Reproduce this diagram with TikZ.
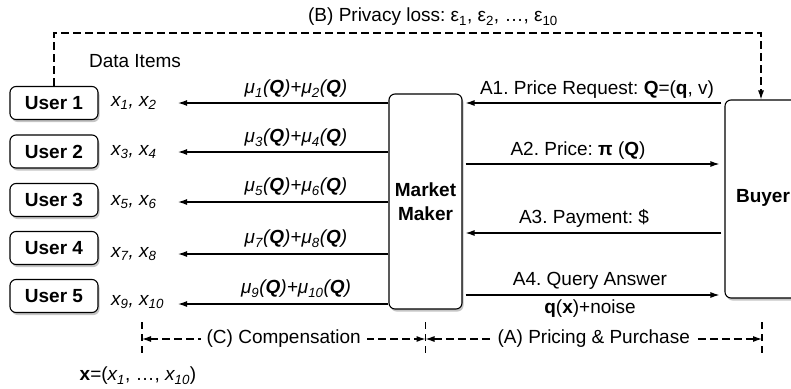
\documentclass[tikz,border=0pt]{standalone}
\usepackage{fontspec}
\setmainfont{Liberation Sans}
\usetikzlibrary{arrows.meta,shadows,calc}
\newcommand{\mysb}[1]{\textsubscript{#1}}
\frenchspacing
\begin{document}
\begin{tikzpicture}[x=1pt,y=-1pt,
  font=\fontsize{19}{22}\selectfont,
  box/.style={draw, line width=1.1pt, rounded corners=6pt, fill=white,
    drop shadow={shadow xshift=1.5pt,shadow yshift=-2.5pt,opacity=0.45}},
  userbox/.style={box, minimum width=88pt, minimum height=33pt, inner sep=0pt,
    font=\fontsize{19}{22}\selectfont\bfseries},
  tip/.tip={Latex[length=9pt,width=6pt]},
  arr/.style={line width=1.2pt, -tip},
  dsh/.style={line width=1.1pt, dash pattern=on 8pt off 4pt},
  lbl/.style={inner sep=1pt},
  xlbl/.style={anchor=west, inner sep=1pt, font=\fontsize{19}{22}\selectfont\itshape},
  mulbl/.style={inner sep=1pt, font=\fontsize{19}{22}\selectfont\itshape},
]
\clip (0,0) rectangle (791,388);
\fill[white] (0,0) rectangle (791,388);

% users
\node[userbox] (u1) at (54,103) {User 1};
\node[userbox] (u2) at (54,151.5) {User 2};
\node[userbox] (u3) at (54,200) {User 3};
\node[userbox] (u4) at (54,248) {User 4};
\node[userbox] (u5) at (54,296) {User 5};

% market maker and buyer
\node[box, minimum width=73pt, minimum height=215pt, inner sep=0pt] (mm) at (425.5,201.5) {};
\node[align=center, font=\fontsize{19}{24}\selectfont\bfseries] (mmt) at (mm.center) {Market\\Maker};
\node[box, minimum width=80pt, minimum height=198pt, inner sep=0pt] (buyer) at (765,199) {};
\node[font=\fontsize{19}{22}\selectfont\bfseries] (buyert) at (763,198) {Buyer};

% data items
\node[lbl] (di) at (135,61) {Data Items};
\node[xlbl] (x1) at (110,103) {x\mysb{1}, x\mysb{2}};
\node[xlbl] (x2) at (110,152) {x\mysb{3}, x\mysb{4}};
\node[xlbl] (x3) at (110,202) {x\mysb{5}, x\mysb{6}};
\node[xlbl] (x4) at (110,254) {x\mysb{7}, x\mysb{8}};
\node[xlbl] (x5) at (110,302) {x\mysb{9}, x\mysb{10}};

\coordinate (e1) at (178,103);
\coordinate (e2) at (178,152);
\coordinate (e3) at (178,202);
\coordinate (e4) at (178,254);
\coordinate (e5) at (178,304);
\foreach \i in {1,...,5}{\draw[arr] (mm.west |- e\i) -- (e\i);}

\node[mulbl] (m1) at (296,89) {μ\mysb{1}(\textbf{Q})+μ\mysb{2}(\textbf{Q})};
\node[mulbl] (m2) at (296,138) {μ\mysb{3}(\textbf{Q})+μ\mysb{4}(\textbf{Q})};
\node[mulbl] (m3) at (296,187) {μ\mysb{5}(\textbf{Q})+μ\mysb{6}(\textbf{Q})};
\node[mulbl] (m4) at (296,239) {μ\mysb{7}(\textbf{Q})+μ\mysb{8}(\textbf{Q})};
\node[mulbl] (m5) at (296,289) {μ\mysb{9}(\textbf{Q})+μ\mysb{10}(\textbf{Q})};

% pricing arrows
\coordinate (r1) at (0,103);
\coordinate (r2) at (0,164);
\coordinate (r3) at (0,233);
\coordinate (r4) at (0,295);
\draw[arr, shorten <=3pt, shorten >=3pt] (buyer.west |- r1) -- (mm.east |- r1);
\draw[arr, shorten <=3pt, shorten >=5pt] (mm.east |- r2) -- (buyer.west |- r2);
\draw[arr, shorten <=3pt, shorten >=3pt] (buyer.west |- r3) -- (mm.east |- r3);
\draw[arr, shorten <=3pt, shorten >=5pt] (mm.east |- r4) -- (buyer.west |- r4);
\node[lbl] (a1) at (597,90) {A1. Price Request: \textbf{Q}=(\textbf{q}, v)};
\node[lbl] (a2) at (578,151) {A2. Price: \textbf{π} (\textbf{Q})};
\node[lbl] (a3) at (584,218) {A3. Payment: \$};
\node[lbl] (a4) at (590,281) {A4. Query Answer};
\node[lbl] (a4b) at (590,309) {\textbf{q}(\textbf{x})+noise};

% privacy loss
\coordinate (tr) at (761,33);
\draw[dsh, -tip] (u1.north) |- (tr) -- (tr |- buyer.north);
\node[lbl] (pl) at (433,17) {(B) Privacy loss: ε\mysb{1}, ε\mysb{2}, …, ε\mysb{10}};

% bottom dimension lines
\coordinate (c1) at (142,339);
\coordinate (c2) at (425.5,339);
\coordinate (c3) at (762,339);
\foreach \c in {c1,c2,c3}{\draw[dsh, dash pattern=on 7pt off 5pt] ($(\c)+(0,-17)$) -- ($(\c)+(0,14)$);}
\draw[dsh, tip-tip] (c1) -- node[fill=white, inner xsep=6pt] (cc) {(C) Compensation} (c2);
\draw[dsh, tip-tip] (c2) -- node[fill=white, inner xsep=6pt] (ca) {(A) Pricing \& Purchase} (c3);

\node[lbl] (xv) at (138,376) {\textbf{x}=(\textit{x\mysb{1}}, …, \textit{x\mysb{10}})};
\end{tikzpicture}
\end{document}
